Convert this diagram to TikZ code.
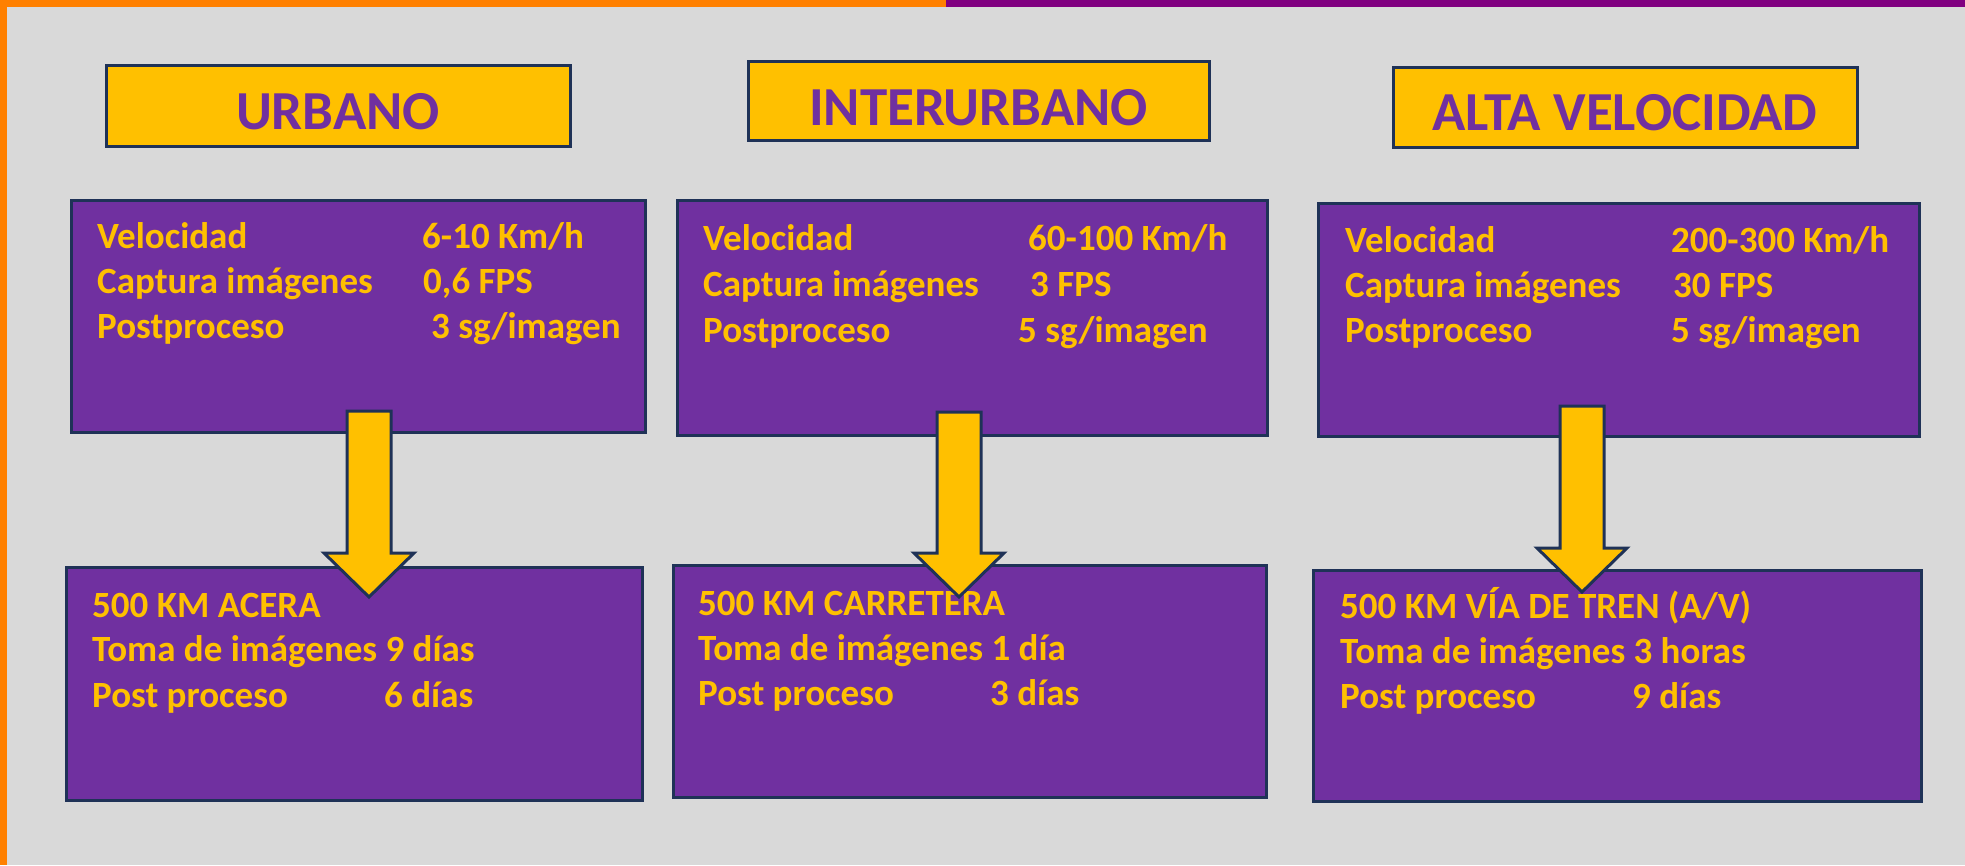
\documentclass[tikz,border=0pt]{standalone}
\usepackage{fontspec}
\setmainfont{Carlito}
\definecolor{bggray}{HTML}{D9D9D9}
\definecolor{boxpurple}{HTML}{7030A0}
\definecolor{boxgold}{HTML}{FFC000}
\definecolor{boxnavy}{HTML}{1F3257}
\definecolor{barorange}{HTML}{FF8000}
\definecolor{barpurple}{HTML}{800080}
\begin{document}
\begin{tikzpicture}[x=1pt,y=-1pt,
    header/.style={draw=boxnavy, fill=boxgold, line width=3pt, inner sep=0pt},
    hdrtxt/.style={text=boxpurple, font=\fontsize{55}{60}\selectfont\bfseries, inner sep=0pt},
    infobox/.style={draw=boxnavy, fill=boxpurple, line width=3pt, inner sep=0pt},
    txt/.style={text=boxgold, font=\fontsize{37}{45}\selectfont\bfseries, anchor=base west, inner sep=0pt},
    blockarrow/.style={draw=boxnavy, fill=boxgold, line width=3pt, line join=miter}]
    % Background and frame
    \useasboundingbox (0,0) rectangle (1965,865);
    \fill[bggray] (0,0) rectangle (1965,865);
    \fill[barorange] (0,0) rectangle (946,7);
    \fill[barpurple] (946,0) rectangle (1965,7);
    \fill[barorange] (0,0) rectangle (7,865);

    % Headers
    \node[header, minimum width=464pt, minimum height=81pt] (hUrb) at (338,105.5) {};
    \node[header, minimum width=461pt, minimum height=79pt] (hInt) at (978.5,100.5) {};
    \node[header, minimum width=464pt, minimum height=80pt] (hAlta) at (1625,107) {};
    \node[hdrtxt, anchor=base] (tUrb) at (338,129) {URBANO};
    \node[hdrtxt, anchor=base] (tInt) at (978.5,125) {INTERURBANO};
    \node[hdrtxt, anchor=base] (tAlta) at (1625,130) {ALTA VELOCIDAD};

    % Data boxes
    \node[infobox, minimum width=574pt, minimum height=232pt] (dUrb) at (358,316) {};
    \node[infobox, minimum width=590pt, minimum height=235pt] (dInt) at (972,317.5) {};
    \node[infobox, minimum width=601pt, minimum height=233pt] (dAlta) at (1618.5,319.5) {};

    % Result boxes
    \node[infobox, minimum width=576pt, minimum height=233pt] (rUrb) at (354,683.5) {};
    \node[infobox, minimum width=593pt, minimum height=232pt] (rInt) at (969.5,681) {};
    \node[infobox, minimum width=608pt, minimum height=231pt] (rAlta) at (1617,685.5) {};

    % Urbano data
    \node[txt] (velUrb) at (97,248) {Velocidad};
    \node[txt] (capUrb) at (97,293) {Captura imágenes};
    \node[txt] (postUrb) at (97,338) {Postproceso};
    \node[txt] (vvUrb) at (422,248) {6-10 Km/h};
    \node[txt] (cvUrb) at (423,293) {0,6 FPS};
    \node[txt] (pvUrb) at (431,338) {3 sg/imagen};

    % Interurbano data
    \node[txt] (velInt) at (703,250) {Velocidad};
    \node[txt] (capInt) at (703,296) {Captura imágenes};
    \node[txt] (postInt) at (703,342) {Postproceso};
    \node[txt] (vvInt) at (1028,250) {60-100 Km/h};
    \node[txt] (cvInt) at (1030,296) {3 FPS};
    \node[txt] (pvInt) at (1018,342) {5 sg/imagen};

    % Alta velocidad data
    \node[txt] (velAlta) at (1345,252) {Velocidad};
    \node[txt] (capAlta) at (1345,297) {Captura imágenes};
    \node[txt] (postAlta) at (1345,342) {Postproceso};
    \node[txt] (vvAlta) at (1671,252) {200-300 Km/h};
    \node[txt] (cvAlta) at (1673,297) {30 FPS};
    \node[txt] (pvAlta) at (1671,342) {5 sg/imagen};

    % Results
    \node[txt] (kmUrb) at (92,617) {500 KM ACERA};
    \node[txt] (tomaUrb) at (92,661) {Toma de imágenes 9 días};
    \node[txt] (ppUrb) at (92,707) {Post proceso};
    \node[txt] (ppvUrb) at (384,707) {6 días};

    \node[txt] (kmInt) at (698,615) {500 KM CARRETERA};
    \node[txt] (tomaInt) at (698,660) {Toma de imágenes 1 día};
    \node[txt] (ppInt) at (698,705) {Post proceso};
    \node[txt] (ppvInt) at (990,705) {3 días};

    \node[txt] (kmAlta) at (1340,618) {500 KM VÍA DE TREN (A/V)};
    \node[txt] (tomaAlta) at (1340,663) {Toma de imágenes 3 horas};
    \node[txt] (ppAlta) at (1340,708) {Post proceso};
    \node[txt] (ppvAlta) at (1632,708) {9 días};

    % Block arrows from data to results
    \foreach \x/\t/\w in {369/411/553, 959/412/553, 1582/406/548}
        \draw[blockarrow] (\x-22,\t) -- (\x+22,\t) -- (\x+22,\w) -- (\x+45,\w)
            -- (\x,\w+44) -- (\x-45,\w) -- (\x-22,\w) -- cycle;
\end{tikzpicture}
\end{document}
